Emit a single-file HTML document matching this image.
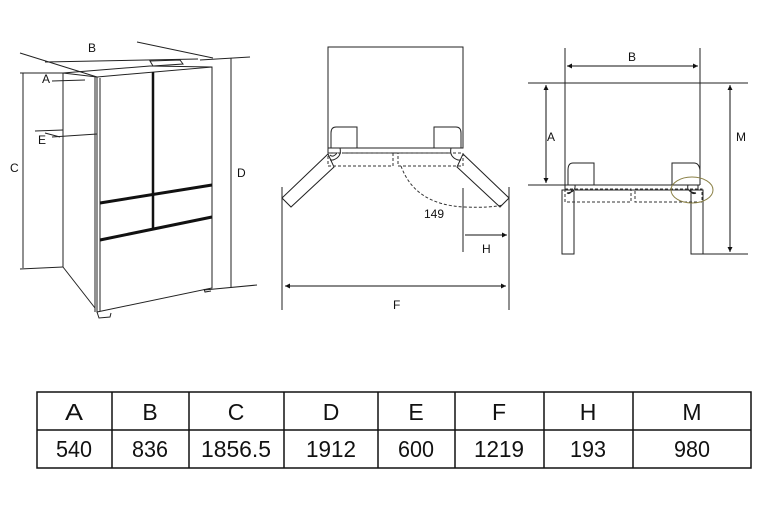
<!DOCTYPE html>
<html><head><meta charset="utf-8"><style>
html,body{margin:0;padding:0;background:#fff;width:774px;height:509px;overflow:hidden}
svg{display:block}
text{font-family:"Liberation Sans",Arial,sans-serif;fill:#111}
</style></head><body>
<svg width="774" height="509" viewBox="0 0 774 509" xmlns="http://www.w3.org/2000/svg">
<defs>
<marker id="ar" viewBox="0 0 6 6" refX="6" refY="3" markerWidth="5" markerHeight="5" orient="auto-start-reverse"><path d="M0,0 L6,3 L0,6 z" fill="#111"/></marker>
</defs>
<g stroke="#222" stroke-width="1" fill="none">
<line x1="20" y1="53" x2="97" y2="77"/>
<line x1="45" y1="62" x2="198" y2="59"/>
<line x1="137" y1="42" x2="213" y2="58"/>
<line x1="20" y1="73" x2="63" y2="73"/>
<line x1="63" y1="73" x2="97" y2="77"/>
<line x1="63" y1="73" x2="150" y2="66"/>
<line x1="150" y1="66" x2="212" y2="67"/>
<line x1="52" y1="81" x2="85" y2="80"/>
<line x1="200" y1="60" x2="250" y2="57"/>
<path d="M150,61 L180,60 L183,64 L153,66 Z"/>
<path d="M97,77 L212,67 L212,288 L97,312 Z"/>
<line x1="100" y1="78" x2="100" y2="311"/>
<line x1="95" y1="77" x2="95" y2="312"/>
<line x1="63" y1="73" x2="63" y2="267"/>
<line x1="63" y1="267" x2="95" y2="308"/>
<line x1="20" y1="269" x2="63" y2="267"/>
<line x1="204" y1="290" x2="257" y2="285"/>
<path d="M97,312 L99,318 L110,317 L111,313"/>
<path d="M204,289 L205,292 L211,291"/>
<line x1="35" y1="131" x2="63" y2="130"/>
<line x1="52" y1="137" x2="97" y2="134"/>
<line x1="45" y1="133" x2="60" y2="137"/>
<line x1="23" y1="73" x2="23" y2="268"/>
<line x1="231" y1="58" x2="231" y2="288"/>
</g>
<line x1="153" y1="72" x2="153" y2="230" stroke="#111" stroke-width="2.5"/>
<line x1="100" y1="203" x2="212" y2="185" stroke="#111" stroke-width="3"/>
<line x1="100" y1="240" x2="212" y2="217" stroke="#111" stroke-width="3"/>
<text x="88" y="52" font-size="12">B</text>
<text x="42" y="83" font-size="12">A</text>
<text x="38" y="144" font-size="12">E</text>
<text x="10" y="172" font-size="12">C</text>
<text x="237" y="177" font-size="12">D</text>

<g stroke="#222" stroke-width="1" fill="none">
<rect x="328" y="47" width="135" height="101"/>
<path d="M331,148 L331,133 Q331,127 336,127 L357,127 L357,148"/>
<path d="M461,148 L461,133 Q461,127 456,127 L434,127 L434,148"/>
<path d="M328,148 L328,153 L337,153 Q333,158 330,155"/>
<line x1="337" y1="148" x2="455" y2="148"/>
<path d="M340,148 Q342,157 333,160 L330,160"/>
<path d="M451,148 Q449,157 458,160 L461,160"/>
<line x1="342" y1="153" x2="450" y2="153"/>
<polygon points="282,198 291,207 334,167 328,154"/>
<polygon points="509,198 500,207 457,167 463,154"/>
<line x1="282" y1="187" x2="282" y2="310"/>
<line x1="509" y1="187" x2="509" y2="310"/>
<line x1="463" y1="188" x2="463" y2="252"/>
</g>
<g stroke="#333" stroke-width="1" fill="none" stroke-dasharray="3,2">
<rect x="328" y="153" width="65" height="13"/>
<rect x="398" y="153" width="65" height="13"/>
<path d="M401,166 Q415,205 465,207 Q490,208 503,205"/>
</g>
<line x1="465" y1="235" x2="507" y2="235" stroke="#111" marker-end="url(#ar)"/>
<line x1="285" y1="286" x2="506" y2="286" stroke="#111" marker-start="url(#ar)" marker-end="url(#ar)"/>
<text x="424" y="218" font-size="12">149</text>
<text x="482" y="253" font-size="12">H</text>
<text x="393" y="309" font-size="12">F</text>

<g stroke="#222" stroke-width="1" fill="none">
<line x1="565" y1="48" x2="565" y2="185"/>
<line x1="700" y1="48" x2="700" y2="185"/>
<line x1="528" y1="83" x2="748" y2="83"/>
<line x1="528" y1="185" x2="700" y2="185"/>
<line x1="691" y1="254" x2="748" y2="254"/>
<path d="M568,185 L568,170 Q568,163 573,163 L594,163 L594,185"/>
<path d="M700,185 L700,170 Q699,163 694,163 L672,163 L672,185"/>
<path d="M565,185 L565,190 L572,190 Q570,195 567,193 M575,185 Q576,192 567,193"/>
<path d="M698,185 L698,190 L690,190 Q692,195 696,193 M688,185 Q686,192 696,193"/>
<line x1="575" y1="190" x2="688" y2="190"/>
<rect x="562" y="190" width="12" height="64"/>
<rect x="691" y="190" width="12" height="64"/>
</g>
<g stroke="#333" stroke-width="1" fill="none" stroke-dasharray="3,2">
<rect x="565" y="189" width="66" height="13"/>
<rect x="635" y="189" width="67" height="13"/>
</g>
<ellipse cx="692" cy="190" rx="21" ry="13" fill="none" stroke="#8a8045" stroke-width="1"/>
<line x1="567" y1="66" x2="698" y2="66" stroke="#111" marker-start="url(#ar)" marker-end="url(#ar)"/>
<line x1="546" y1="85" x2="546" y2="183" stroke="#111" marker-start="url(#ar)" marker-end="url(#ar)"/>
<line x1="730" y1="85" x2="730" y2="252" stroke="#111" marker-start="url(#ar)" marker-end="url(#ar)"/>
<text x="628" y="61" font-size="12">B</text>
<text x="547" y="141" font-size="12">A</text>
<text x="736" y="141" font-size="12">M</text>

<g stroke="#111" stroke-width="1.5" fill="none">
<rect x="37" y="392" width="714" height="76"/>
<line x1="37" y1="430" x2="751" y2="430"/>
<line x1="112" y1="392" x2="112" y2="468"/>
<line x1="189" y1="392" x2="189" y2="468"/>
<line x1="284" y1="392" x2="284" y2="468"/>
<line x1="378" y1="392" x2="378" y2="468"/>
<line x1="455" y1="392" x2="455" y2="468"/>
<line x1="544" y1="392" x2="544" y2="468"/>
<line x1="633" y1="392" x2="633" y2="468"/>
</g>
<g font-size="23" text-anchor="middle">
<text x="74" y="420" textLength="18" lengthAdjust="spacingAndGlyphs">A</text><text x="150" y="420">B</text><text x="236" y="420">C</text><text x="331" y="420">D</text>
<text x="416" y="420">E</text><text x="499" y="420">F</text><text x="588" y="420">H</text><text x="692" y="420">M</text>
<text x="74" y="457" textLength="36" lengthAdjust="spacingAndGlyphs">540</text><text x="150" y="457" textLength="36" lengthAdjust="spacingAndGlyphs">836</text><text x="236" y="457" textLength="70" lengthAdjust="spacingAndGlyphs">1856.5</text><text x="331" y="457" textLength="50" lengthAdjust="spacingAndGlyphs">1912</text>
<text x="416" y="457" textLength="36" lengthAdjust="spacingAndGlyphs">600</text><text x="499" y="457" textLength="50" lengthAdjust="spacingAndGlyphs">1219</text><text x="588" y="457" textLength="36" lengthAdjust="spacingAndGlyphs">193</text><text x="692" y="457" textLength="36" lengthAdjust="spacingAndGlyphs">980</text>
</g>
</svg>
</body></html>
